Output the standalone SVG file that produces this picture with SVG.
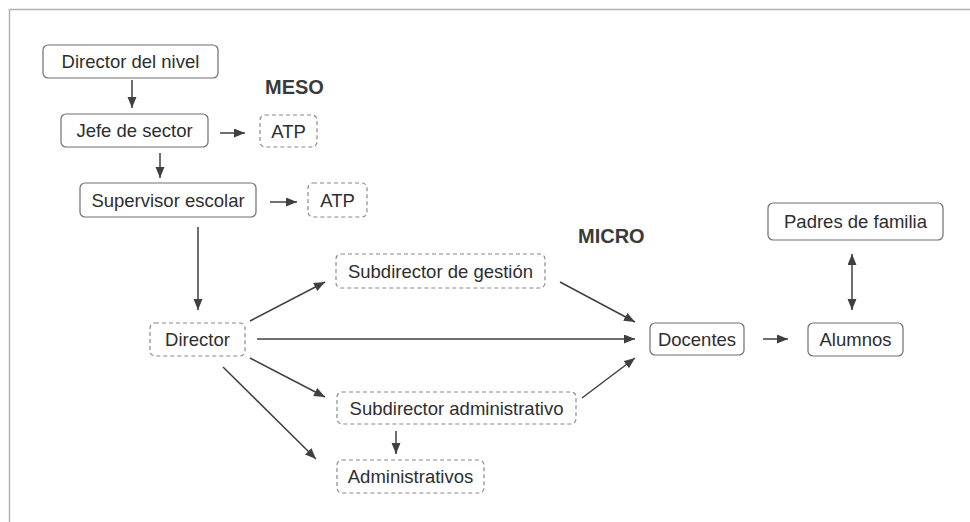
<svg xmlns="http://www.w3.org/2000/svg" width="970" height="522" viewBox="0 0 970 522">
  <style>
    .box { fill: #ffffff; stroke: #6e6e6e; stroke-width: 1.2; }
    .dash { fill: #ffffff; stroke: #8a8a8a; stroke-width: 1.2; stroke-dasharray: 4 3; }
    .lbl { font-family: "Liberation Sans", Arial, sans-serif; font-size: 18.5px; fill: #2e2e2e; text-anchor: middle; }
    .lvl { font-family: "Liberation Sans", Arial, sans-serif; font-size: 20px; font-weight: bold; fill: #3a3a3a; }
    .edge { stroke: #404040; stroke-width: 1.5; fill: none; marker-end: url(#head); }
  </style>
  <defs>
    <marker id="head" markerUnits="userSpaceOnUse" markerWidth="12" markerHeight="10" refX="11" refY="4.5" orient="auto-start-reverse">
      <path d="M0,0 L11,4.5 L0,9 z" fill="#404040"/>
    </marker>
  </defs>

  <rect width="970" height="522" fill="#ffffff"/>
  <!-- frame -->
  <path d="M9.5,522 V9.5 H970" fill="none" stroke="#b3b3b3" stroke-width="1.5"/>

  <!-- level labels -->
  <text class="lvl" x="265" y="94">MESO</text>
  <text class="lvl" x="578" y="243">MICRO</text>

  <!-- connectors -->
  <g id="connectors">
    <line class="edge" x1="132" y1="80" x2="132" y2="108"/>
    <line class="edge" x1="220" y1="133" x2="245" y2="133"/>
    <line class="edge" x1="160" y1="153" x2="160" y2="178"/>
    <line class="edge" x1="270" y1="202" x2="297" y2="202"/>
    <line class="edge" x1="198" y1="227" x2="198" y2="310"/>
    <line class="edge" x1="250" y1="321" x2="325" y2="282"/>
    <line class="edge" x1="257" y1="339" x2="635" y2="339"/>
    <line class="edge" x1="250" y1="358" x2="325" y2="397"/>
    <line class="edge" x1="223" y1="367" x2="316" y2="459"/>
    <line class="edge" x1="396" y1="431" x2="396" y2="454"/>
    <line class="edge" x1="560" y1="282" x2="635" y2="322"/>
    <line class="edge" x1="582" y1="398" x2="635" y2="358"/>
    <line class="edge" x1="763" y1="339" x2="788" y2="339"/>
    <line class="edge" x1="852" y1="254" x2="852" y2="310" marker-start="url(#head)"/>
  </g>

  <!-- nodes -->
  <g id="director-nivel">
    <rect class="box" x="43" y="45" width="175" height="33" rx="5"/>
    <text class="lbl" x="130.5" y="68">Director del nivel</text>
  </g>
  <g id="jefe-sector">
    <rect class="box" x="61" y="114" width="147" height="33" rx="5"/>
    <text class="lbl" x="134.5" y="137">Jefe de sector</text>
  </g>
  <g id="atp-jefe">
    <rect class="dash" x="260" y="115" width="57" height="32" rx="5"/>
    <text class="lbl" x="288.5" y="137.5">ATP</text>
  </g>
  <g id="supervisor">
    <rect class="box" x="80" y="183" width="176" height="34" rx="5"/>
    <text class="lbl" x="168" y="206.5">Supervisor escolar</text>
  </g>
  <g id="atp-supervisor">
    <rect class="dash" x="308" y="183" width="59" height="34" rx="5"/>
    <text class="lbl" x="337.5" y="206.5">ATP</text>
  </g>
  <g id="director">
    <rect class="dash" x="150" y="323" width="95" height="33" rx="5"/>
    <text class="lbl" x="197.5" y="346">Director</text>
  </g>
  <g id="subdirector-gestion">
    <rect class="dash" x="336" y="254" width="209" height="34" rx="5"/>
    <text class="lbl" x="440.5" y="277.5">Subdirector de gestión</text>
  </g>
  <g id="subdirector-administrativo">
    <rect class="dash" x="337" y="392" width="239" height="32" rx="5"/>
    <text class="lbl" x="456.5" y="414.5">Subdirector administrativo</text>
  </g>
  <g id="administrativos">
    <rect class="dash" x="337" y="460" width="147" height="33" rx="5"/>
    <text class="lbl" x="410.5" y="483">Administrativos</text>
  </g>
  <g id="docentes">
    <rect class="box" x="650" y="323" width="94" height="32" rx="5"/>
    <text class="lbl" x="697" y="345.5">Docentes</text>
  </g>
  <g id="alumnos">
    <rect class="box" x="808" y="323" width="95" height="33" rx="5"/>
    <text class="lbl" x="855.5" y="346">Alumnos</text>
  </g>
  <g id="padres">
    <rect class="box" x="768" y="203" width="175" height="37" rx="5"/>
    <text class="lbl" x="855.5" y="228">Padres de familia</text>
  </g>
</svg>
